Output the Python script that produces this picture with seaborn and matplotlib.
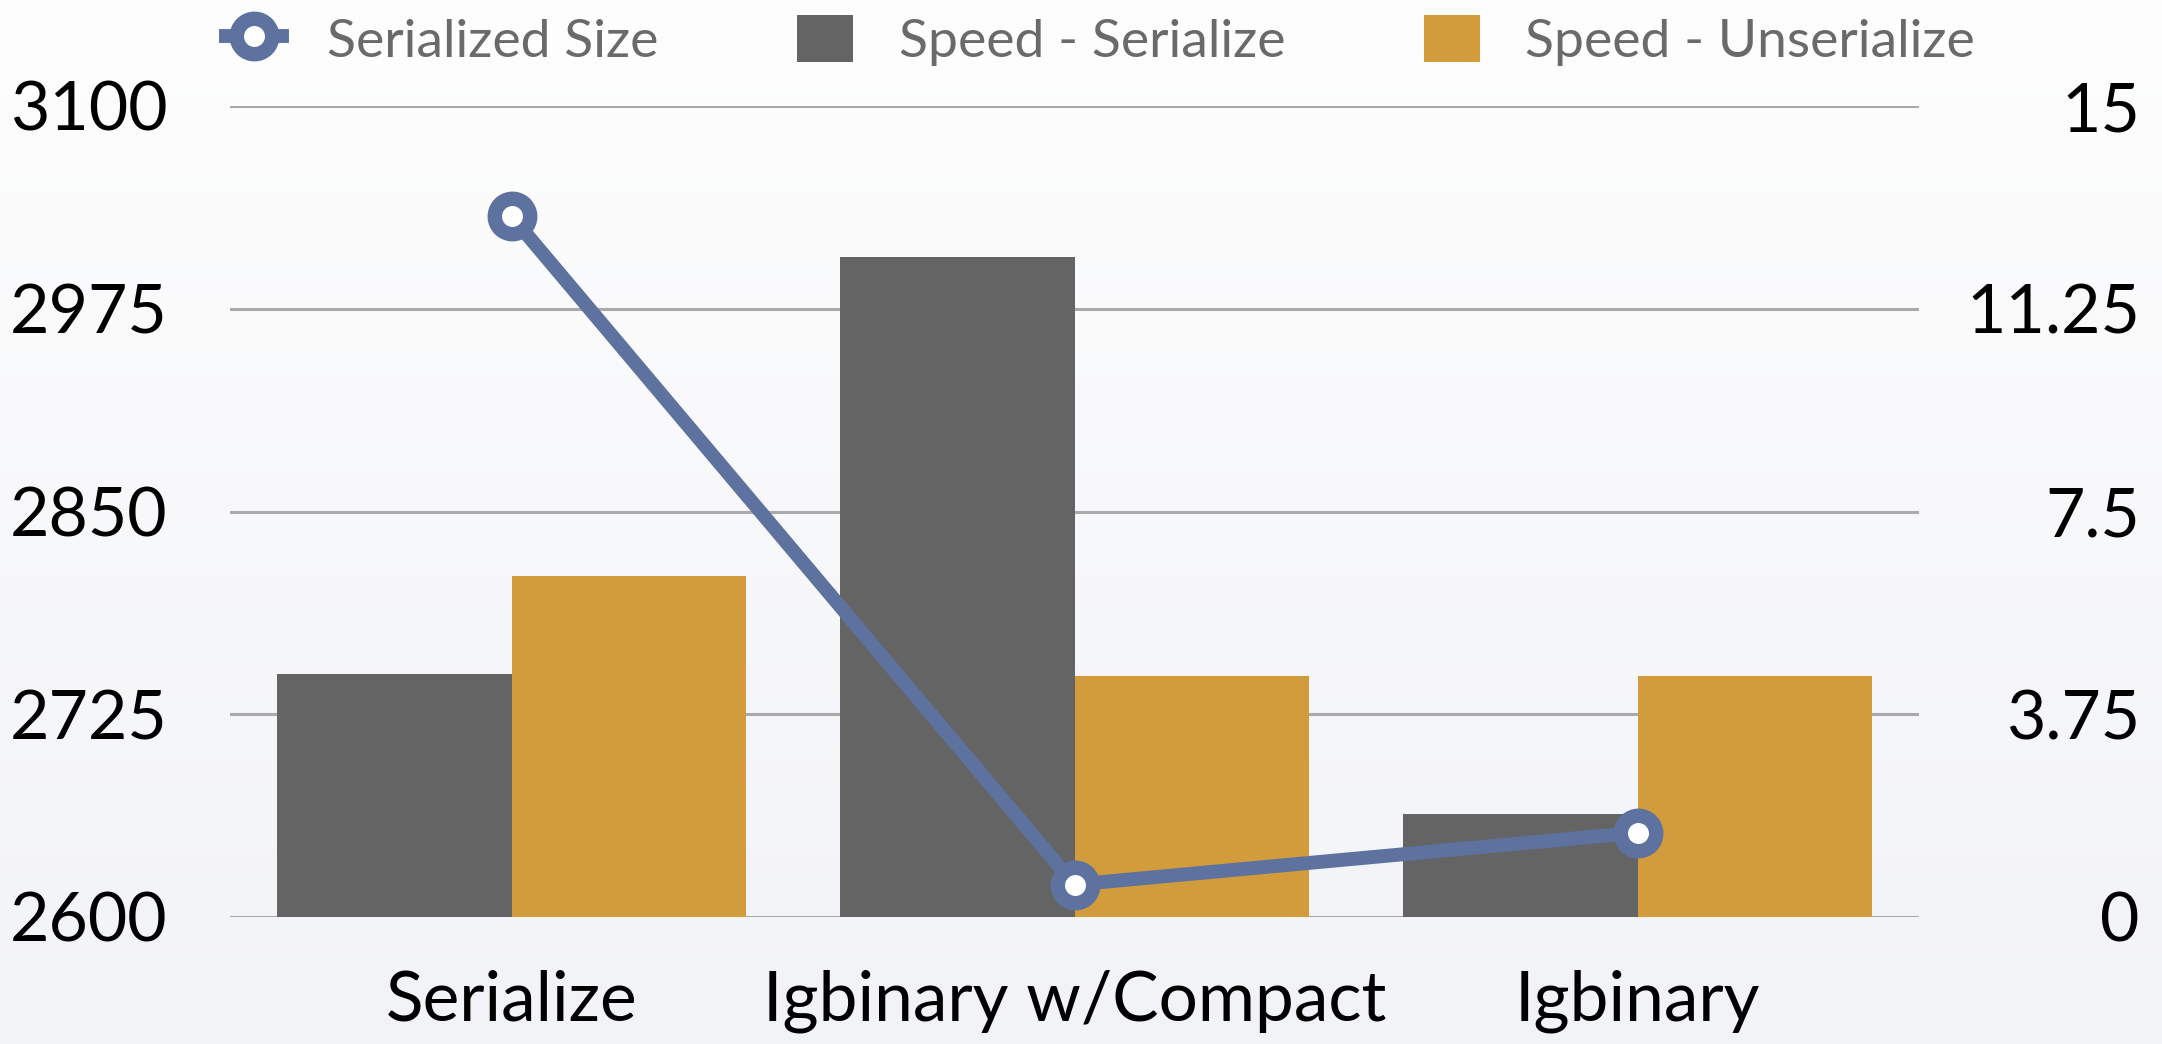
import numpy as np
import pandas as pd
import matplotlib
matplotlib.use("Agg")
import matplotlib.pyplot as plt
from matplotlib.lines import Line2D
from matplotlib.patches import Patch
import seaborn as sns

# ---- data ----
categories = ["Serialize", "Igbinary w/Compact", "Igbinary"]
serialized_size = [3032, 2620, 2652]
speed_serialize = [4.5, 12.2, 1.9]
speed_unserialize = [6.3, 4.45, 4.45]
left_ticks = [2600, 2725, 2850, 2975, 3100]
right_ticks = [0, 3.75, 7.5, 11.25, 15]
right_tick_labels = ["0", "3.75", "7.5", "11.25", "15"]
series_names = ["Speed - Serialize", "Speed - Unserialize"]
line_name = "Serialized Size"

# ---- style ----
C_LINE = "#5E72A0"
C_GRAY = "#646464"
C_ORANGE = "#D29B3B"
FONT = ["Lato", "DejaVu Sans"]
plt.rcParams["font.family"] = FONT

W, H = 2162, 1044
fig = plt.figure(figsize=(W / 100, H / 100), dpi=100)

# background gradient
bg = fig.add_axes([0, 0, 1, 1], zorder=-10)
grad = np.linspace(0, 1, 256).reshape(-1, 1)
top = np.array([254, 254, 254]) / 255
bot = np.array([242, 243, 247]) / 255
img = top[None, None, :] * (1 - grad[:, :, None]) + bot[None, None, :] * grad[:, :, None]
bg.imshow(img, aspect="auto", extent=[0, 1, 0, 1])
bg.set_axis_off()

left, right, bottom, topp = 230 / W, 1919 / W, 1 - 917 / H, 1 - 106 / H
ax = fig.add_axes([left, bottom, right - left, topp - bottom])
ax.patch.set_visible(False)

df = pd.DataFrame({
    "cat": categories * 2,
    "val": speed_serialize + speed_unserialize,
    "series": [series_names[0]] * 3 + [series_names[1]] * 3,
})
sns.barplot(data=df, x="cat", y="val", hue="series", order=categories,
            hue_order=series_names, palette=[C_GRAY, C_ORANGE], saturation=1,
            width=0.834, ax=ax, legend=False, linewidth=0, zorder=2)

ax2 = ax.twinx()
sns.pointplot(x=categories, y=serialized_size, order=categories, ax=ax2,
              color=C_LINE, markers="o", linestyles="-", errorbar=None)
MS, MEW, LW = 25.5, 10.4, 10
for ln in ax2.lines:
    ln.set_linewidth(LW)
    ln.set_markersize(MS)
    ln.set_markeredgewidth(MEW)
    ln.set_markerfacecolor("white")
    ln.set_markeredgecolor(C_LINE)
    ln.set_color(C_LINE)
    ln.set_zorder(5)

ax.set_xlim(-0.5, 2.5)
ax.set_ylim(0, 15)
ax2.set_ylim(2600, 3100)

ax.yaxis.tick_right()
ax2.yaxis.tick_left()

ax.set_yticks(right_ticks)
ax.set_yticklabels(right_tick_labels)
ax2.set_yticks(left_ticks)
ax2.set_yticklabels([str(t) for t in left_ticks])

ax.grid(axis="y", color="#AAAAAA", linewidth=2.2, zorder=0)
ax.set_axisbelow(True)
ax2.grid(False)

for a in (ax, ax2):
    for s in a.spines.values():
        s.set_visible(False)
    a.set_xlabel("")
    a.set_ylabel("")

TICK_FS = 49
ax.tick_params(axis="y", length=0, pad=159, labelsize=TICK_FS, labelcolor="black")
for lbl in ax.get_yticklabels():
    lbl.set_horizontalalignment("right")
ax2.tick_params(axis="y", length=0, pad=45, labelsize=TICK_FS, labelcolor="black")
ax.tick_params(axis="x", length=0, pad=38, labelsize=TICK_FS + 1, labelcolor="black")

handles = [
    Line2D([0], [0], color=C_LINE, marker="o", markersize=MS, markeredgewidth=MEW,
           markerfacecolor="white", markeredgecolor=C_LINE, linewidth=LW),
    Patch(facecolor=C_GRAY, edgecolor="none"),
    Patch(facecolor=C_ORANGE, edgecolor="none"),
]
labels = [line_name] + series_names
fig.legend(handles, labels, loc="upper center", bbox_to_anchor=(0.509, 1.032), ncol=3,
           frameon=False, fontsize=38.5, labelcolor="#6a6a6a", handlelength=1.04,
           handleheight=0.98, handletextpad=0.85, columnspacing=2.6)

fig.savefig("out.png", dpi=100)
